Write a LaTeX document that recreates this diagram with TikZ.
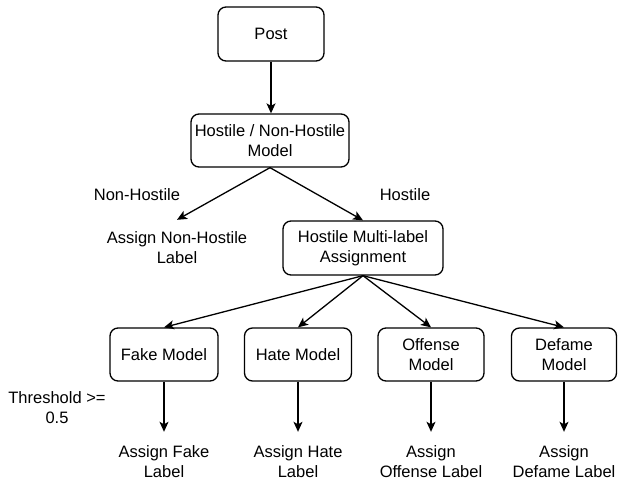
\documentclass[tikz,border=0pt]{standalone}
\usepackage{fontspec}
\setmainfont{Liberation Sans}
\usetikzlibrary{arrows.meta}
\begin{document}
\begin{tikzpicture}[x=1pt,y=-1pt,
  every node/.style={font=\fontsize{16.5}{20}\selectfont, align=center, text=black},
  box/.style={draw, line width=1.3pt, rounded corners=8pt, inner sep=0pt},
  txt/.style={inner sep=0pt},
  arr/.style={line width=1.3pt, -{Stealth[length=10pt,width=9pt,inset=2.5pt]}}
]
\useasboundingbox (0,0) rectangle (618,485);
\node[box, minimum width=106pt, minimum height=54pt] (post) at (271,34) {Post};
\node[box, minimum width=158pt, minimum height=53pt] (hnh) at (270,140.5) {Hostile / Non-Hostile\\Model};
\node[txt, minimum height=56pt] (nhl) at (177,248) {Assign Non-Hostile\\Label};
\node[box, minimum width=160pt, minimum height=54pt] (hma) at (363,248) {Hostile Multi-label\\Assignment};
\node[txt] (lnh) at (137,195) {Non-Hostile};
\node[txt] (lh) at (405,195) {Hostile};

\node[box, minimum width=108pt, minimum height=53pt] (fake) at (164,354.5) {Fake Model};
\node[box, minimum width=107pt, minimum height=53pt] (hate) at (298,354.5) {Hate Model};
\node[box, minimum width=106pt, minimum height=53pt] (off) at (431,354.5) {Offense\\Model};
\node[box, minimum width=105pt, minimum height=53pt] (def) at (564,354.5) {Defame\\Model};

\node[txt, minimum height=59pt] (afake) at (164,461.5) {Assign Fake\\Label};
\node[txt, minimum height=59pt] (ahate) at (298,461.5) {Assign Hate\\Label};
\node[txt, minimum height=59pt] (aoff) at (431,461.5) {Assign\\Offense Label};
\node[txt, minimum height=59pt] (adef) at (564,461.5) {Assign\\Defame Label};
\node[txt] (thr) at (57,408) {Threshold >=\\0.5};

\draw[arr] (post.south) -- (hnh.north -| post.south);
\draw[arr] (hnh.south) -- (nhl.north);
\draw[arr] (hnh.south) -- (hma.north);
\draw[arr] (hma.south) -- (fake.north);
\draw[arr] (hma.south) -- (hate.north);
\draw[arr] (hma.south) -- (off.north);
\draw[arr] (hma.south) -- (def.north);
\draw[arr] (fake.south) -- (afake.north);
\draw[arr] (hate.south) -- (ahate.north);
\draw[arr] (off.south) -- (aoff.north);
\draw[arr] (def.south) -- (adef.north);
\end{tikzpicture}
\end{document}
